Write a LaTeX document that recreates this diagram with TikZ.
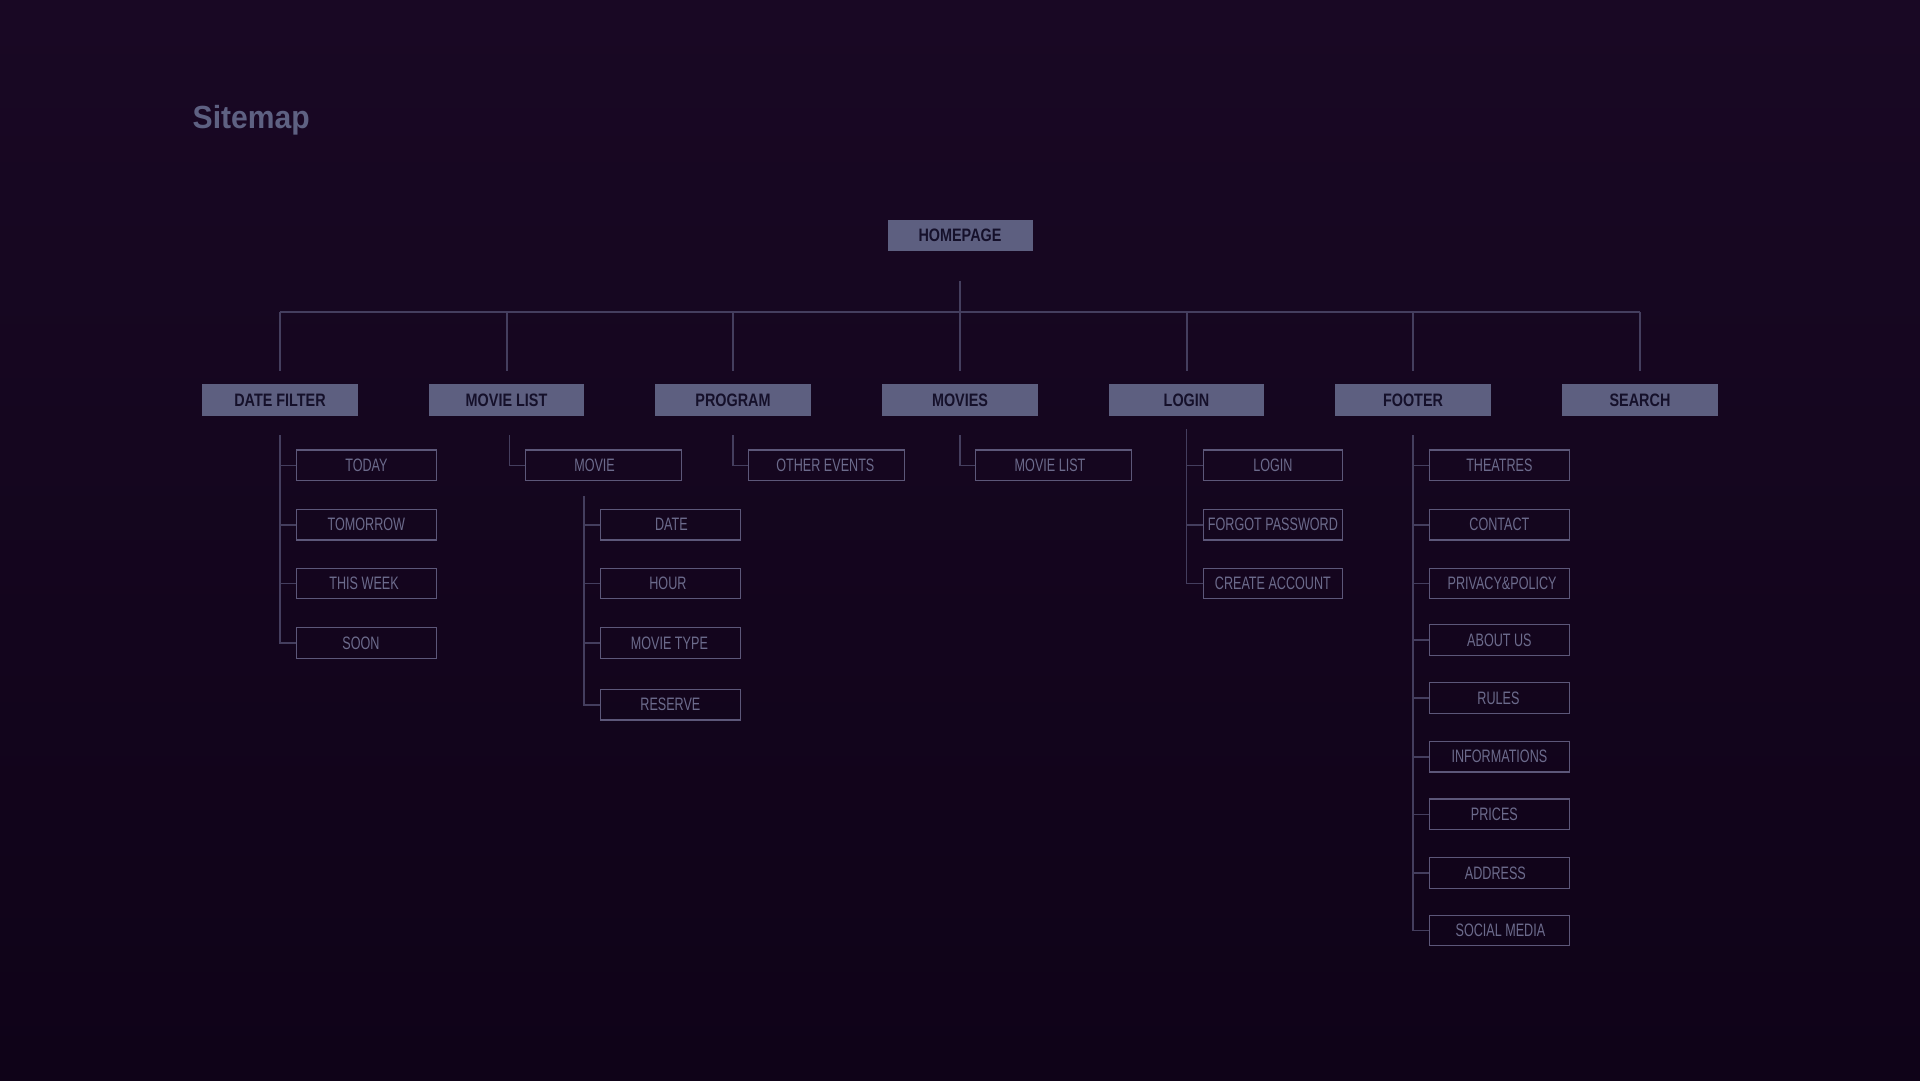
\documentclass[tikz,border=0pt]{standalone}
\usepackage{fontspec}
\setmainfont{Liberation Sans}
\newfontfamily\condfont[FakeStretch=0.70]{Liberation Sans}
\newfontfamily\topfont[FakeStretch=0.80]{Liberation Sans}
\newfontfamily\titlefont[FakeStretch=0.94]{Liberation Sans}
\definecolor{bgtop}{HTML}{190824}
\definecolor{bgbot}{HTML}{0F0318}
\definecolor{boxfill}{HTML}{5D5F80}
\definecolor{darktext}{HTML}{15102A}
\definecolor{childdraw}{HTML}{5C5779}
\definecolor{childtext}{HTML}{6C6B8C}
\definecolor{linkcol}{HTML}{443E5E}
\definecolor{titlecol}{HTML}{5E6182}
\newcommand\tsh[2]{\hspace*{#1}#2}
\tikzset{
  topbox/.style={fill=boxfill, text=darktext, font=\topfont\bfseries\fontsize{18}{20}\selectfont,
    minimum width=155.5pt, minimum height=32pt, inner sep=0pt},
  childbox/.style={draw=childdraw, line width=1.2pt, text=childtext,
    font=\condfont\fontsize{18}{20}\selectfont, minimum width=139.6pt, minimum height=30.6pt,
    inner sep=0pt, anchor=west},
  widebox/.style={childbox, minimum width=155.5pt},
  buslink/.style={draw=linkcol, line width=2pt},
  sublink/.style={draw=linkcol, line width=1.6pt},
}
\begin{document}
\begin{tikzpicture}[x=1pt,y=-1pt]
\shade[top color=bgtop, bottom color=bgbot] (0,0) rectangle (1920,1080);
\useasboundingbox (0,0) rectangle (1920,1080);

\node[anchor=base west, text=titlecol, font=\titlefont\bfseries\fontsize{32}{36}\selectfont, inner sep=0pt] (title) at (192.5,128) {Sitemap};

% top level
\node[topbox, minimum width=145pt, minimum height=31pt] (home) at (960,235) {HOMEPAGE};
\node[topbox] (df) at (280,400.4) {DATE FILTER};
\node[topbox] (ml) at (506.5,400.4) {MOVIE LIST};
\node[topbox] (pg) at (733,400.4) {PROGRAM};
\node[topbox] (mv) at (960,400.4) {MOVIES};
\node[topbox] (lg) at (1186.5,400.4) {LOGIN};
\node[topbox] (ft) at (1413,400.4) {FOOTER};
\node[topbox] (sr) at (1640,400.4) {SEARCH};

\coordinate (bus) at (960,312);
\draw[buslink] ([yshift=-30pt]home.south) -- (bus);
\draw[buslink] (bus -| df.north) -- (bus -| sr.north);
\foreach \n in {df,ml,pg,mv,lg,ft,sr}
  \draw[buslink] (bus -| \n.north) -- ([yshift=13.5pt]\n.north);

% DATE FILTER
\node[childbox] (today) at (296,465.3) {TODAY};
\node[childbox] (tomorrow) at (296,524.7) {TOMORROW};
\node[childbox] (thisweek) at (296,583.5) {\tsh{-4.6pt}{THIS WEEK}};
\node[childbox] (soon) at (296,642.9) {\tsh{-11pt}{SOON}};
\coordinate (dft) at ([yshift=-18.3pt]df.south);
\foreach \c in {today,tomorrow,thisweek,soon}
  \draw[sublink] (dft) |- (\c.west);

% MOVIE LIST
\node[widebox] (movie) at (525,465.3) {\tsh{-17.6pt}{MOVIE}};
\coordinate (mlt) at ([xshift=3pt,yshift=-18.3pt]ml.south);
\draw[sublink] (mlt) |- (movie.west);
\node[childbox] (date) at (600,524.7) {\tsh{2pt}{DATE}};
\node[childbox] (hour) at (600,583.5) {\tsh{-5pt}{HOUR}};
\node[childbox] (mtype) at (600,642.9) {\tsh{-2pt}{MOVIE TYPE}};
\node[childbox] (reserve) at (600,704.7) {RESERVE};
\coordinate (mvt) at (584,496);
\foreach \c in {date,hour,mtype,reserve}
  \draw[sublink] (mvt) |- (\c.west);

% PROGRAM
\node[widebox] (other) at (748,465.3) {\tsh{-2pt}{OTHER EVENTS}};
\coordinate (pgt) at ([yshift=-18.3pt]pg.south);
\draw[sublink] (pgt) |- (other.west);

% MOVIES
\node[widebox] (mlist) at (975,465.3) {\tsh{-6.6pt}{MOVIE LIST}};
\coordinate (mvst) at ([yshift=-18.3pt]mv.south);
\draw[sublink] (mvst) |- (mlist.west);

% LOGIN
\node[childbox] (login) at (1202.5,465.3) {LOGIN};
\node[childbox] (forgot) at (1202.5,524.7) {FORGOT PASSWORD};
\node[childbox] (create) at (1202.5,583.5) {CREATE ACCOUNT};
\coordinate (lgt) at ([yshift=-12.5pt]lg.south);
\foreach \c in {login,forgot,create}
  \draw[sublink] (lgt) |- (\c.west);

% FOOTER
\node[childbox] (theatres) at (1429,465.3) {THEATRES};
\node[childbox] (contact) at (1429,524.7) {CONTACT};
\node[childbox] (privacy) at (1429,583.5) {\tsh{5.4pt}{PRIVACY\&POLICY}};
\node[childbox] (about) at (1429,639.8) {ABOUT US};
\node[childbox] (rules) at (1429,698) {\tsh{-2pt}{RULES}};
\node[childbox] (infos) at (1429,756.7) {INFORMATIONS};
\node[childbox] (prices) at (1429,814.3) {\tsh{-10pt}{PRICES}};
\node[childbox] (address) at (1429,873) {\tsh{-8pt}{ADDRESS}};
\node[childbox] (social) at (1429,930.5) {\tsh{2pt}{SOCIAL MEDIA}};
\coordinate (ftt) at ([yshift=-18.3pt]ft.south);
\foreach \c in {theatres,contact,privacy,about,rules,infos,prices,address,social}
  \draw[sublink] (ftt) |- (\c.west);
\end{tikzpicture}
\end{document}
